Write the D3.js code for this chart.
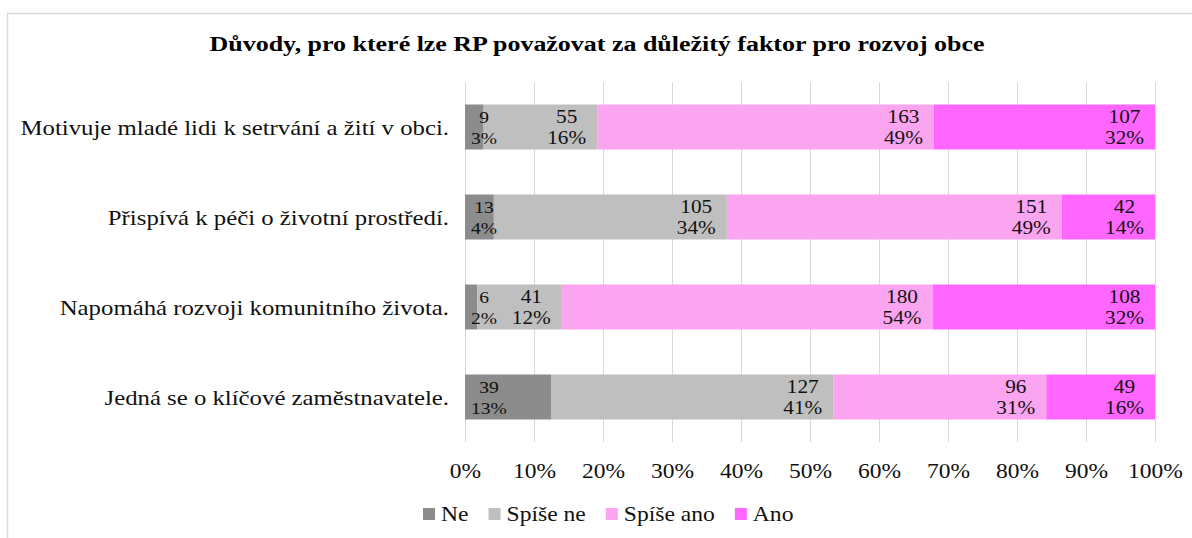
<!DOCTYPE html>
<html>
<head>
<meta charset="utf-8">
<script src="https://cdn.jsdelivr.net/npm/d3@7"></script>
<style>
  body { margin: 0; background: #fff; }
  svg { display: block; }
  svg text { font-family: "Liberation Serif", "Times New Roman", serif; }
</style>
</head>
<body>
<div id="chart"></div>
<script>
// categories top to bottom
const categories = [
  'Motivuje mladé lidi k setrvání a žití v obci.',
  'Přispívá k péči o životní prostředí.',
  'Napomáhá rozvoji komunitního života.',
  'Jedná se o klíčové zaměstnavatele.'
]
const seriesNames = ['Ne', 'Spíše ne', 'Spíše ano', 'Ano']
const seriesColors = ['#8c8c8c', '#bfbfbf', '#fba4f0', '#ff66ff']

// counts per series, same order as categories
const ne = [9, 13, 6, 39]
const spiseNe = [55, 105, 41, 127]
const spiseAno = [163, 151, 180, 96]
const ano = [107, 42, 108, 49]
// rounded shares shown in the labels
const nePct = ['3%', '4%', '2%', '13%']
const spiseNePct = ['16%', '34%', '12%', '41%']
const spiseAnoPct = ['49%', '49%', '54%', '31%']
const anoPct = ['32%', '14%', '32%', '16%']

const ticks = [0, 0.1, 0.2, 0.3, 0.4, 0.5, 0.6, 0.7, 0.8, 0.9, 1]
const title = 'Důvody, pro které lze RP považovat za důležitý faktor pro rozvoj obce'

const counts = [ne, spiseNe, spiseAno, ano]
const pcts = [nePct, spiseNePct, spiseAnoPct, anoPct]

const W = 1192, H = 538
// the source picture is a bit wider than tall, so the text gets a slight horizontal stretch
const SX = 1.18
const svg = d3.select('#chart').append('svg').attr('width', W).attr('height', H)

// chart frame
svg.append('rect')
  .attr('x', 7.5).attr('y', 13.5)
  .attr('width', W + 20).attr('height', H + 20)
  .attr('fill', 'none').attr('stroke', '#d9d9d9').attr('stroke-width', 1.5)

svg.append('text')
  .attr('transform', `translate(597,51) scale(${SX},1)`)
  .attr('text-anchor', 'middle')
  .attr('font-size', '22px').attr('font-weight', 'bold').attr('fill', '#000')
  .text(title)

const x = d3.scaleLinear().domain([0, 1]).range([465, 1155])
const y = d3.scaleBand().domain(categories).range([82, 442]).paddingInner(0.5).paddingOuter(0.25)

// gridlines
svg.append('g').selectAll('line')
  .data(ticks)
  .enter().append('line')
  .attr('x1', d => Math.round(x(d)) + 0.5).attr('x2', d => Math.round(x(d)) + 0.5)
  .attr('y1', 82).attr('y2', 442)
  .attr('stroke', '#d9d9d9').attr('stroke-width', 1)

// x axis tick labels
const xAxis = d3.axisBottom(x).tickValues(ticks).tickFormat(d3.format('.0%')).tickSize(0).tickPadding(0)
const axG = svg.append('g').attr('transform', 'translate(0,478)').call(xAxis)
axG.select('.domain').remove()
axG.selectAll('text')
  .attr('y', 0).attr('dy', 0)
  .attr('transform', 'scale(1.12,1)')
  .attr('font-size', '21px').attr('fill', '#111')

// category labels
svg.append('g').selectAll('text')
  .data(categories)
  .enter().append('text')
  .attr('transform', d => `translate(449,${y(d) + y.bandwidth() / 2 + 7.5}) scale(${SX},1)`)
  .attr('text-anchor', 'end')
  .attr('font-size', '21px').attr('fill', '#111')
  .text(d => d)

// stacked segments
const segs = []
categories.forEach((cat, i) => {
  const total = d3.sum(counts, s => s[i])
  let acc = 0
  counts.forEach((s, k) => {
    const v = s[i] / total
    segs.push({ cat, k, x0: acc, x1: acc + v, n: s[i], pct: pcts[k][i] })
    acc += v
  })
})

svg.append('g').selectAll('rect')
  .data(segs)
  .enter().append('rect')
  .attr('x', d => x(d.x0))
  .attr('width', d => x(d.x1) - x(d.x0))
  .attr('y', d => y(d.cat))
  .attr('height', y.bandwidth())
  .attr('fill', d => seriesColors[d.k])

// data labels: two lines (count / share)
const LSX = 1.15
const lblG = svg.append('g')
segs.forEach(d => {
  const fs = d.k === 0 ? 17 : 18.5
  const cy = y(d.cat) + y.bandwidth() / 2
  const t1 = lblG.append('text').attr('font-size', fs + 'px').attr('fill', '#111')
    .attr('text-anchor', 'middle').text(d.n)
  const t2 = lblG.append('text').attr('font-size', fs + 'px').attr('fill', '#111')
    .attr('text-anchor', 'middle').text(d.pct)
  const w = LSX * Math.max(t1.node().getComputedTextLength(), t2.node().getComputedTextLength())
  // first series sits at the bar base, the rest at the inside end
  const cx = d.k === 0 ? x(d.x0) + 6 + w / 2 : x(d.x1) - 11 - w / 2
  t1.attr('transform', `translate(${cx},${cy - 4}) scale(${LSX},1)`)
  t2.attr('transform', `translate(${cx},${cy + 17}) scale(${LSX},1)`)
})

// legend
const legend = svg.append('g').attr('transform', 'translate(0,521)')
let lx = 423
seriesNames.forEach((name, k) => {
  legend.append('rect')
    .attr('x', lx).attr('y', -13).attr('width', 12).attr('height', 12)
    .attr('fill', seriesColors[k])
  const t = legend.append('text')
    .attr('transform', `translate(${lx + 18},0) scale(${SX},1)`)
    .attr('font-size', '20px').attr('fill', '#111')
    .text(name)
  lx += 18 + SX * t.node().getComputedTextLength() + 20
})
</script>
</body>
</html>
